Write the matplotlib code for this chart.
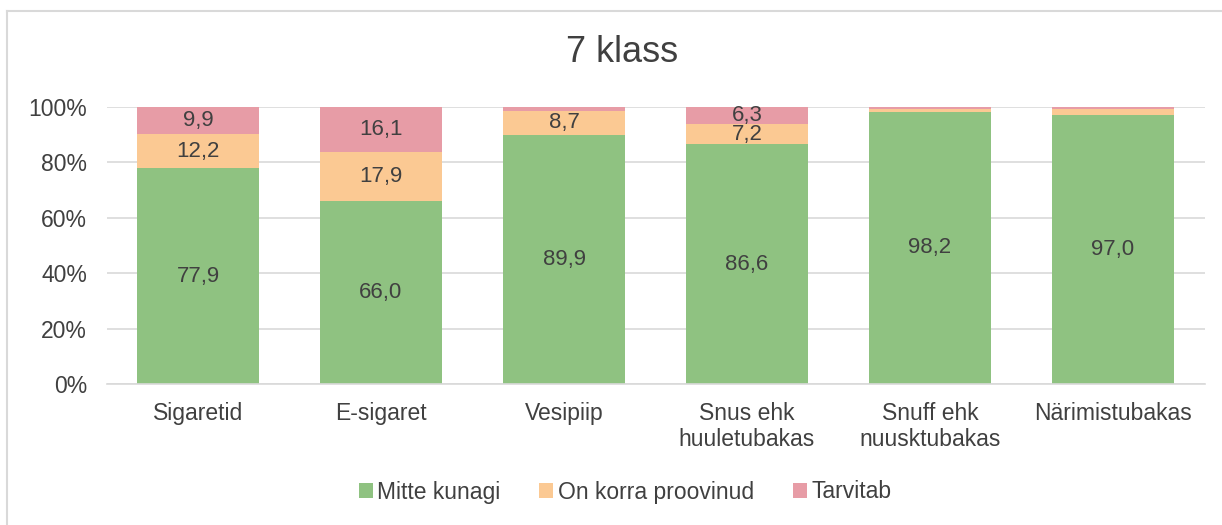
import numpy as np
import matplotlib.pyplot as plt
from matplotlib.lines import Line2D

# data
categories = ['Sigaretid', 'E-sigaret', 'Vesipiip', 'Snus ehk\nhuuletubakas',
              'Snuff ehk\nnuusktubakas', 'Närimistubakas']
never = [77.9, 66.0, 89.9, 86.6, 98.2, 97.0]
tried = [12.2, 17.9, 8.7, 7.2, 1.0, 2.2]
uses = [9.9, 16.1, 1.4, 6.3, 0.8, 0.8]
series_names = ['Mitte kunagi', 'On korra proovinud', 'Tarvitab']

colors = ['#8fc281', '#fbc993', '#e79ca6']
txt = '#404040'

plt.rcParams['font.family'] = ['Liberation Sans', 'DejaVu Sans']

fig = plt.figure(figsize=(12.22, 5.25), dpi=100)
ax = fig.add_axes([106.5/1222, 1-384/525, (1204.5-106.5)/1222, 277/525])

x = np.arange(len(categories))
bottom = np.zeros(len(categories))
for vals, c, name in zip([never, tried, uses], colors, series_names):
    vals = np.array(vals)
    ax.bar(x, vals, 0.667, bottom=bottom, color=c, label=name, zorder=2)
    for xi, b, v in zip(x, bottom, vals):
        if v >= 5:
            ax.text(xi, b + v/2, ('%.1f' % v).replace('.', ','), ha='center',
                    va='center', fontsize=16, color=txt, zorder=3)
    bottom += vals

ax.set_xlim(-0.5, len(categories) - 0.5)
ax.set_ylim(0, 100)
ax.set_yticks(np.arange(0, 101, 20))
ax.set_yticklabels(['%d%%' % v for v in range(0, 101, 20)])
ax.set_xticks(x)
ax.set_xticklabels(categories, linespacing=1.15)
ax.tick_params(axis='both', length=0, labelsize=16.5, labelcolor=txt)
ax.tick_params(axis='y', pad=14)
ax.tick_params(axis='x', pad=13)
ax.grid(axis='y', color='#d9d9d9', linewidth=1.2, zorder=0)
for s in ['top', 'right', 'left']:
    ax.spines[s].set_visible(False)
ax.spines['bottom'].set_color('#d9d9d9')
ax.spines['bottom'].set_linewidth(1.2)

fig.text(622/1222, 1-52/525, '7 klass', ha='center', va='center', fontsize=26, color=txt)

fig.legend(loc='center', bbox_to_anchor=(625/1222, 1-492/525), ncol=3, frameon=False,
           fontsize=16.5, labelcolor=txt, handlelength=0.6, handleheight=0.6,
           handletextpad=0.2, columnspacing=1.7)

# chart border (left and top)
fig.add_artist(Line2D([7/1222, 7/1222], [0, 1-11/525], color='#d9d9d9', linewidth=1.5))
fig.add_artist(Line2D([7/1222, 1], [1-11/525, 1-11/525], color='#d9d9d9', linewidth=1.5))

plt.savefig('out.png', dpi=100)
